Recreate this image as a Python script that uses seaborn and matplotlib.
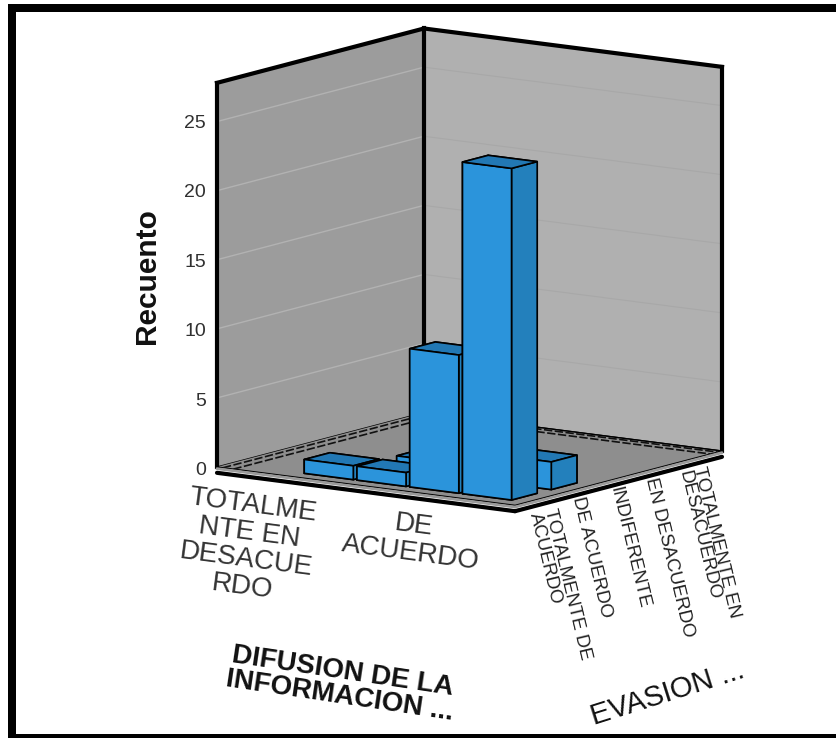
import matplotlib
matplotlib.use("Agg")
import matplotlib.pyplot as plt
import seaborn as sns
import numpy as np
from matplotlib.patches import Rectangle
from mpl_toolkits.mplot3d import proj3d

sns.set_theme(style="white")
plt.rcParams['font.family'] = ['Liberation Sans', 'DejaVu Sans']

# data
difusion_idx = [1, 2, 3, 4, 2, 4]
evasion_idx = [0, 0, 0, 0, 1, 1]
recuento = [1, 1, 10, 24, 1, 2]
z_ticks = [0, 5, 10, 15, 20, 25]
difusion_labels = ["TOTALME\nNTE EN\nDESACUE\nRDO", "DE\nACUERDO"]
evasion_labels = ["TOTALMENTE DE\nACUERDO", "DE ACUERDO", "INDIFERENTE",
                  "EN DESACUERDO", "TOTALMENTE EN\nDESACUERDO"]

W, H = 837, 738
fig = plt.figure(figsize=(W / 100, H / 100), dpi=100, facecolor="white")
ax = fig.add_axes([0.1, 0.1, 0.8, 0.8], projection="3d", computed_zorder=False)
ax.set_proj_type("ortho")
ax.view_init(elev=10.6, azim=-55)
ax.set_box_aspect((364, 361, 391))
ax.patch.set_alpha(0)

XLIM = (-0.88, 4.77)
YLIM = (-0.64, 4.57)
ZLIM = (0, 27.8)
ax.set_xlim(*XLIM)
ax.set_ylim(*YLIM)
ax.set_zlim(*ZLIM)
ax.set_xticks([])
ax.set_yticks([])
ax.set_zticks(z_ticks)
ax.set_zticklabels([])
ax.grid(False)
ax.xaxis.set_pane_color("#9c9c9c")
ax.yaxis.set_pane_color("#b0b0b0")
ax.zaxis.set_pane_color("#8e8e8e")
for a in (ax.xaxis, ax.yaxis, ax.zaxis):
    a.line.set_color((0, 0, 0, 0))
    a.pane.set_edgecolor((0, 0, 0, 0))
ax.tick_params(axis="z", length=0, color=(0, 0, 0, 0))
for t in ax.zaxis.get_major_ticks():
    t.tick1line.set_visible(False)
    t.tick2line.set_visible(False)

x0, x1 = XLIM
y0, y1 = YLIM
z1 = ZLIM[1]

# wall grid lines
for v in z_ticks[1:]:
    ax.plot([x0, x0], [y0, y1], [v, v], color="#b2b2b2", lw=1.0, zorder=1)
    ax.plot([x0, x1], [y1, y1], [v, v], color="#a8a8a8", lw=0.8, zorder=1)

# dashed double lines at wall base
for off in (0.02, 0.055):
    ax.plot([x0 + off * (x1 - x0), x0 + off * (x1 - x0)], [y0, y1 - off * (y1 - y0)], [0, 0],
            color="#111111", lw=1.2, ls=(0, (5, 1.5)), zorder=1)
    ax.plot([x0 + off * (x1 - x0), x1], [y1 - off * (y1 - y0), y1 - off * (y1 - y0)], [0, 0],
            color="#111111", lw=1.2, ls=(0, (5, 1.5)), zorder=1)

# box frame
for xs, ys, zs in [([x0, x0], [y0, y1], [z1, z1]), ([x0, x1], [y1, y1], [z1, z1]),
                   ([x0, x0], [y0, y0], [0, z1]), ([x1, x1], [y1, y1], [0, z1]),
                   ([x0, x0], [y1, y1], [0, z1])]:
    ax.plot(xs, ys, zs, color="black", lw=3.0, solid_capstyle="projecting", zorder=2)

# floor rim
for xs, ys in [([x0, x1], [y0, y0]), ([x1, x1], [y0, y1])]:
    ax.plot(xs, ys, [-0.42, -0.42], color="black", lw=3.0, zorder=2, clip_on=False)
    ax.plot(xs, ys, [-0.12, -0.12], color="#9a9a9a", lw=2.0, zorder=2, clip_on=False)

# bars, back to front
bar_w, bar_d = 0.93, 0.646
face_colors = ["#2b94db", "#2278b4", "#2b94db", "#2b94db", "#2b94db", "#2380bc"]
order = sorted(range(len(recuento)), key=lambda i: (-evasion_idx[i], difusion_idx[i]))
for k, i in enumerate(order):
    ax.bar3d(difusion_idx[i] - bar_w / 2, evasion_idx[i] - bar_d / 2, 0, bar_w, bar_d, recuento[i],
             color=face_colors, shade=False, edgecolor="black", linewidth=1.2,
             zorder=5 + k)

# fit the axes so the box lands on the target pixels
fig.canvas.draw()
def px(x, y, z):
    X, Y, _ = proj3d.proj_transform(x, y, z, ax.get_proj())
    return ax.transData.transform((X, Y))
p_left = px(x0, y0, 0)
p_right = px(x1, y1, 0)
scale = (722 - 217) / (p_right[0] - p_left[0])
pos = ax.get_position()
ax.set_position([pos.x0, pos.y0, pos.width * scale, pos.height * scale])
fig.canvas.draw()
p_left = px(x0, y0, 0)
pos = ax.get_position()
ax.set_position([pos.x0 + (217 - p_left[0]) / W, pos.y0 + ((H - 467) - p_left[1]) / H,
                 pos.width, pos.height])

def T(x, y, s, **kw):
    return fig.text(x / W, 1 - y / H, s, **kw)

# z tick labels
for v in z_ticks:
    T(206, 470.5 - v * 13.9, str(v), ha="right", va="center", fontsize=14, color="#303030")
T(147, 276, "Recuento", rotation=90, ha="center", va="center", fontsize=21.5,
  fontweight="bold", color="#111111")

# difusion category labels
T(248, 546, difusion_labels[0], rotation=-7.5, rotation_mode="anchor", ha="center", va="center",
  multialignment="center", fontsize=20, color="#333333", linespacing=1.08)
T(412, 539, difusion_labels[1], rotation=-7.5, rotation_mode="anchor", ha="center", va="center",
  multialignment="center", fontsize=20, color="#333333", linespacing=1.08)
T(341, 684, "DIFUSION DE LA\nINFORMACION ...", rotation=-8.5, rotation_mode="anchor", ha="center",
  va="center", multialignment="center", fontsize=20, fontweight="bold", color="#111111",
  linespacing=0.95)

# evasion category labels
for (xp, yp), lab in zip([(542, 511), (577, 497), (615, 487), (650, 478), (691, 469)], evasion_labels):
    T(xp, yp, lab, rotation=-76.5, rotation_mode="anchor", ha="left", va="center",
      multialignment="left", fontsize=13.5, color="#222222", linespacing=0.85)
T(668, 693, "EVASION ...", rotation=17.5, rotation_mode="anchor", ha="center", va="center",
  fontsize=21, color="#111111")

# outer frame: left, top and bottom bars
for (bx, by, bw, bh) in [(8, 4, 8, 734), (8, 4, 829, 8), (8, 734, 829, 4)]:
    fig.add_artist(Rectangle((bx / W, 1 - (by + bh) / H), bw / W, bh / H,
                             transform=fig.transFigure, facecolor="black", edgecolor="none"))

fig.savefig("out.png", dpi=100, facecolor="white")
